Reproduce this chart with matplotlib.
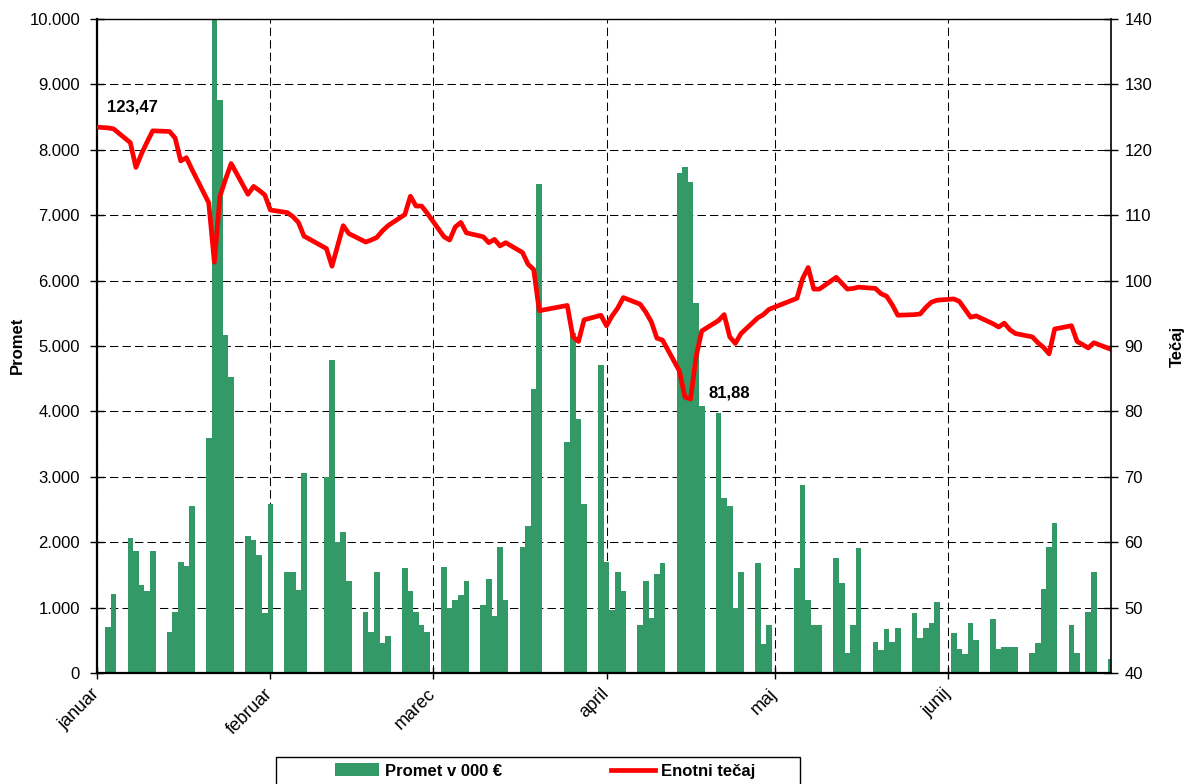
import numpy as np
import pandas as pd
import matplotlib
matplotlib.use("Agg")
import matplotlib.pyplot as plt
from matplotlib.patches import Patch, Rectangle
from matplotlib.lines import Line2D
from matplotlib.ticker import FuncFormatter, MultipleLocator

plt.rcParams['font.family'] = ['Liberation Sans', 'DejaVu Sans']

year = 2008

# trading days (month-day), one row per week
days = ["01-03", "01-04",
        "01-07", "01-08", "01-09", "01-10", "01-11",
        "01-14", "01-15", "01-16", "01-17", "01-18",
        "01-21", "01-22", "01-23", "01-24", "01-25",
        "01-28", "01-29", "01-30", "01-31", "02-01",
        "02-04", "02-05", "02-06", "02-07",
        "02-11", "02-12", "02-13", "02-14", "02-15",
        "02-18", "02-19", "02-20", "02-21", "02-22",
        "02-25", "02-26", "02-27", "02-28", "02-29",
        "03-03", "03-04", "03-05", "03-06", "03-07",
        "03-10", "03-11", "03-12", "03-13", "03-14",
        "03-17", "03-18", "03-19", "03-20",
        "03-25", "03-26", "03-27", "03-28",
        "03-31", "04-01", "04-02", "04-03", "04-04",
        "04-07", "04-08", "04-09", "04-10", "04-11",
        "04-14", "04-15", "04-16", "04-17", "04-18",
        "04-21", "04-22", "04-23", "04-24", "04-25",
        "04-28", "04-29", "04-30",
        "05-05", "05-06", "05-07", "05-08", "05-09",
        "05-12", "05-13", "05-14", "05-15", "05-16",
        "05-19", "05-20", "05-21", "05-22", "05-23",
        "05-26", "05-27", "05-28", "05-29", "05-30",
        "06-02", "06-03", "06-04", "06-05", "06-06",
        "06-09", "06-10", "06-11", "06-12", "06-13",
        "06-16", "06-17", "06-18", "06-19", "06-20",
        "06-23", "06-24", "06-26", "06-27",
        "06-30"]

# turnover in 000 EUR
promet = [700, 1210,
          2070, 1860, 1340, 1260, 1860,
          630, 940, 1690, 1630, 2550,
          3590, 10050, 8760, 5170, 4520,
          2100, 2040, 1800, 920, 2580,
          1540, 1540, 1270, 3060,
          3000, 4780, 2000, 2160, 1410,
          940, 630, 1540, 460, 570,
          1600, 1250, 940, 730, 630,
          1620, 1000, 1120, 1200, 1410,
          1040, 1430, 870, 1930, 1120,
          1930, 2250, 4350, 7470,
          3530, 5200, 3880, 2590,
          4710, 1700, 960, 1550, 1260,
          740, 1410, 840, 1520, 1680,
          7640, 7730, 7510, 5660, 4090,
          3970, 2670, 2550, 1000, 1550,
          1680, 440, 740,
          1600, 2880, 1120, 740, 740,
          1760, 1370, 310, 740, 1910,
          480, 350, 680, 480, 690,
          920, 530, 690, 770, 1080,
          610, 370, 290, 770, 510,
          830, 370, 400, 400, 400,
          300, 460, 1290, 1930, 2290,
          740, 310, 940, 1540,
          210]

# unit price; the line starts on 1 January
start_day = "01-01"
start_tecaj = 123.47
tecaj = [123.35, 123.2,
         121.1, 117.3, 119.4, 121.2, 122.9,
         122.8, 121.8, 118.3, 118.8, 117.0,
         111.9, 102.8, 112.9, 115.5, 117.9,
         113.2, 114.4, 113.8, 113.1, 110.8,
         110.4, 109.8, 108.9, 106.8,
         104.9, 102.2, 105.3, 108.4, 107.2,
         105.9, 106.2, 106.6, 107.6, 108.4,
         110.1, 112.9, 111.4, 111.4, 110.3,
         106.7, 106.2, 108.2, 108.9, 107.3,
         106.7, 105.8, 106.3, 105.3, 105.8,
         104.3, 102.5, 101.7, 95.4,
         96.2, 91.4, 90.7, 94.0,
         94.7, 93.1, 94.6, 95.8, 97.4,
         96.4, 95.2, 93.7, 91.2, 90.9,
         86.2, 82.2, 81.88, 88.4, 92.3,
         93.9, 94.8, 91.4, 90.4, 91.9,
         94.3, 94.8, 95.6,
         97.3, 100.3, 102.0, 98.7, 98.7,
         100.5, 99.6, 98.7, 98.8, 99.0,
         98.8, 98.0, 97.6, 96.3, 94.7,
         94.8, 94.9, 95.9, 96.7, 97.0,
         97.2, 96.8, 95.6, 94.4, 94.6,
         93.4, 92.9, 93.5, 92.5, 91.9,
         91.4, 90.5, 89.8, 88.8, 92.6,
         93.1, 90.7, 89.7, 90.5,
         89.5]

months = ["januar", "februar", "marec", "april", "maj", "junij"]

bar_dates = pd.to_datetime(["%d-%s" % (year, d) for d in days])
line_dates = pd.to_datetime(["%d-%s" % (year, d) for d in [start_day] + days])
line_vals = [start_tecaj] + tecaj
month_starts = pd.date_range("%d-01-01" % year, periods=len(months), freq="MS")

green = "#339966"

fig = plt.figure(figsize=(11.96, 7.84), dpi=100)
ax = fig.add_axes([96.7 / 1196, 1 - 673 / 784, 1014 / 1196, 654 / 784])
ax2 = ax.twinx()

ax.set_axisbelow(True)
ax.bar(bar_dates, promet, width=1.0, color=green, align="center", linewidth=0)
ax.set_ylim(0, 10000)
ax.set_xlim(pd.Timestamp("%d-01-01" % year), pd.Timestamp("%d-06-30" % year))
ax.yaxis.set_major_locator(MultipleLocator(1000))
ax.yaxis.set_major_formatter(FuncFormatter(lambda v, p: "{:,}".format(int(v)).replace(",", ".")))
ax.set_xticks(month_starts)
ax.set_xticklabels(months, rotation=45, ha="right", va="center", rotation_mode="anchor")
ax.grid(True, color="black", linestyle=(0, (8, 4)), linewidth=0.75)

ax2.plot(line_dates, line_vals, color="#ff0000", linewidth=3.4, solid_joinstyle="round")
ax2.set_ylim(40, 140)
ax2.yaxis.set_major_locator(MultipleLocator(10))

# data labels: first value and minimum
imin = int(np.argmin(line_vals))
for i, dx, dy in [(0, 26, 14.7), (imin, 28, 4.7)]:
    ax2.annotate("{:.2f}".format(line_vals[i]).replace(".", ","), xy=(line_dates[i], line_vals[i]),
                 xytext=(dx, dy), textcoords="offset points", ha="center", va="center",
                 fontsize=12, fontweight="bold")

ax.tick_params(axis="y", direction="inout", length=10, width=1, pad=7, labelsize=12)
ax.tick_params(axis="x", direction="inout", length=8, width=1, pad=9, labelsize=13)
ax2.tick_params(axis="y", direction="inout", length=10, width=1, pad=5, labelsize=12)

ax.spines["left"].set_linewidth(1.6)
ax.spines["bottom"].set_linewidth(1.6)
ax.spines["top"].set_visible(False)
ax.spines["right"].set_visible(False)
ax2.spines["left"].set_visible(False)
ax2.spines["bottom"].set_visible(False)
ax2.spines["right"].set_linewidth(1.2)
ax2.spines["top"].set_linewidth(1.0)

fig.text(17.5 / 1196, 1 - 345 / 784, "Promet", rotation=90, ha="center", va="center",
         fontsize=12, fontweight="bold")
fig.text(1177 / 1196, 1 - 346 / 784, "Tečaj", rotation=90, ha="center", va="center",
         fontsize=12, fontweight="bold")

handles = [Patch(facecolor=green, edgecolor="none"),
           Line2D([], [], color="#ff0000", linewidth=3.4)]
fig.legend(handles, ["Promet v 000 €", "Enotni tečaj"], loc="center",
           bbox_to_anchor=(545 / 1196, 1 - 771 / 784), ncol=2, frameon=False,
           borderpad=0, handlelength=2.64, handleheight=0.78, handletextpad=0.36,
           columnspacing=6.5, prop={"size": 12, "weight": "bold"})
fig.add_artist(Rectangle((276 / 1196, -0.02), 524 / 1196, 0.02 + 27 / 784,
                         transform=fig.transFigure, fill=False, edgecolor="black", linewidth=1))

fig.savefig("out.png", dpi=100)
